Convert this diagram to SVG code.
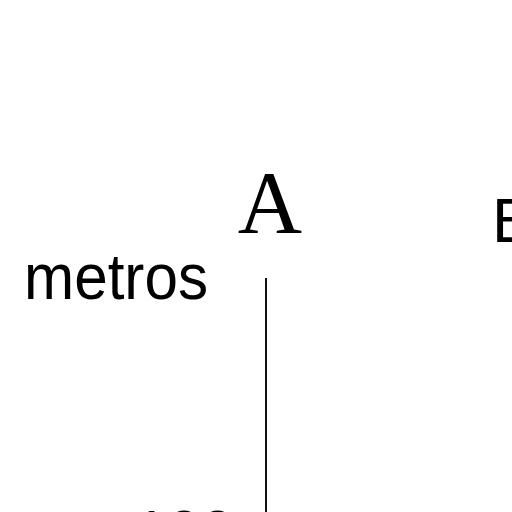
<svg xmlns="http://www.w3.org/2000/svg" width="512" height="512" viewBox="0 0 512 512">
<style>
.s{font-family:"Liberation Sans",Arial,sans-serif;fill:#000}
.r{font-family:"Liberation Serif","Times New Roman",serif;fill:#000}
</style>
<rect width="512" height="512" fill="#fff"/>
<g id="label-metros"><text class="s" x="24" y="299" font-size="64" textLength="184" lengthAdjust="spacingAndGlyphs">metros</text></g>
<g id="node-A"><text class="r" x="270" y="232" font-size="89" text-anchor="middle">A</text></g>
<g id="node-B"><text class="s" x="492" y="242" font-size="63">B</text></g>
<g id="label-100"><text class="s" x="134" y="552" font-size="60">100</text></g>
<g id="connectors"><line x1="266" y1="278" x2="266" y2="512" stroke="#111" stroke-width="2"/></g>
</svg>
